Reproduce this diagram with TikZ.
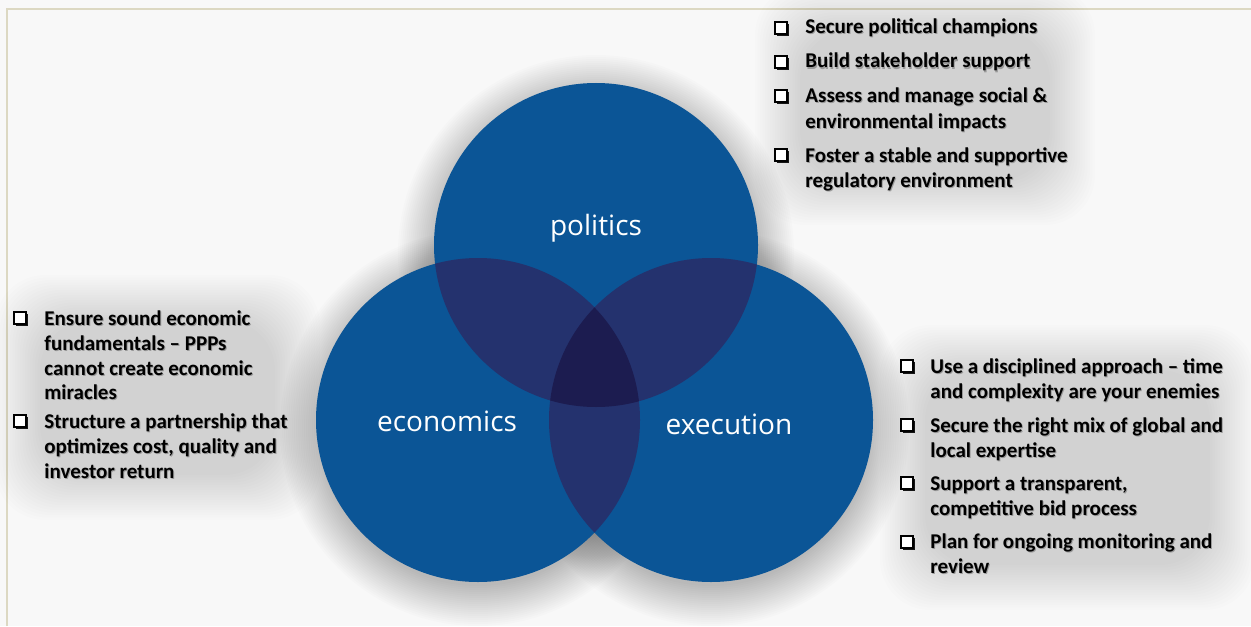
\documentclass[tikz,border=0pt]{standalone}
\usepackage{fontspec}
\setmainfont{Carlito}
\newfontfamily\labelfont{Open Sans}
\usetikzlibrary{shadows}
\definecolor{cblue}{RGB}{11,85,150}
\definecolor{cdouble}{RGB}{36,50,110}
\definecolor{ctriple}{RGB}{28,28,80}
\definecolor{framecol}{RGB}{220,216,194}
\definecolor{bgcol}{RGB}{248,248,248}
\tikzset{
  itemtext/.style={font=\fontsize{10.5}{12}\selectfont\bfseries, anchor=base west, inner sep=0pt, text=black},
  itemshadow/.style={itemtext, text=black!55, opacity=0.6},
  chkbox/.style={draw=black, fill=white, line width=0.9pt, minimum size=6pt, inner sep=0pt,
     drop shadow={shadow xshift=1pt, shadow yshift=-1pt, opacity=0.9, fill=black}},
  circlelabel/.style={font=\labelfont\fontsize{14}{16}\selectfont, text=white, inner sep=0pt},
  glow/.style={fill=black, opacity=0.013},
  tglow/.style={fill=black, opacity=0.006, rounded corners=25pt}
}
\newcommand{\itm}[3]{%
  \node[itemshadow] (#1s) at ([xshift=0.5pt,yshift=-0.5pt]#2) {#3};
  \node[itemtext] (#1) at (#2) {#3};}
\begin{document}
\begin{tikzpicture}[x=0.5pt,y=-0.5pt]
\useasboundingbox (0,0) rectangle (1251,626);
\fill[bgcol] (0,0) rectangle (1251,626);
\draw[framecol, line width=1pt] (7,626) -- (7,9) -- (1251,9);

% soft glows behind the text blocks
\foreach \i in {0,...,18}{
  \fill[tglow] (800-2.5*\i,30-2.5*\i) rectangle (1050+2.5*\i,180+2.5*\i);
  \fill[tglow] (40-2.5*\i,320-2.5*\i) rectangle (275+2.5*\i,475+2.5*\i);
  \fill[tglow] (925-2.5*\i,370-2.5*\i) rectangle (1210+2.5*\i,565+2.5*\i);
}

\coordinate (P) at (596,245);
\coordinate (E) at (478,420);
\coordinate (X) at (711,420);
\def\R{162}

% glow
\foreach \c in {P,E,X}{
  \foreach \i in {0,...,20}{
    \fill[glow] ([yshift=-4pt]\c) circle[radius=\R-4+2*\i];
  }
}

% circles
\fill[cblue] (P) circle[radius=\R];
\fill[cblue] (E) circle[radius=\R];
\fill[cblue] (X) circle[radius=\R];
\begin{scope}
  \clip (P) circle[radius=\R];
  \fill[cdouble] (E) circle[radius=\R];
  \fill[cdouble] (X) circle[radius=\R];
\end{scope}
\begin{scope}
  \clip (E) circle[radius=\R];
  \fill[cdouble] (X) circle[radius=\R];
\end{scope}
\begin{scope}
  \clip (P) circle[radius=\R];
  \clip (E) circle[radius=\R];
  \fill[ctriple] (X) circle[radius=\R];
\end{scope}

\node[circlelabel] (lpol) at (596,228) {politics};
\node[circlelabel] (leco) at (447,421) {economics};
\node[circlelabel] (lexe) at (729,424) {execution};

% top right list
\node[chkbox] (c1) at (781,28) {};
\node[chkbox] (c2) at (781,62) {};
\node[chkbox] (c3) at (781,96) {};
\node[chkbox] (c4) at (781,155) {};
\itm{t1}{805,34}{Secure political champions}
\itm{t2}{805,68}{Build stakeholder support}
\itm{t3}{805,103}{Assess and manage social \&}
\itm{t3b}{805,128}{environmental impacts}
\itm{t4}{805,162}{Foster a stable and supportive}
\itm{t4b}{805,187}{regulatory environment}

% left list
\node[chkbox] (c5) at (20,318) {};
\node[chkbox] (c6) at (20,421) {};
\itm{t5}{44,325}{Ensure sound economic}
\itm{t5b}{44,350}{fundamentals -- PPPs}
\itm{t5c}{44,375}{cannot create economic}
\itm{t5d}{44,399}{miracles}
\itm{t6}{44,428}{Structure a partnership that}
\itm{t6b}{44,453}{optimizes cost, quality and}
\itm{t6c}{44,478}{investor return}

% right list
\node[chkbox] (c7) at (907,366) {};
\node[chkbox] (c8) at (907,425) {};
\node[chkbox] (c9) at (907,483) {};
\node[chkbox] (c10) at (907,542) {};
\itm{t7}{930,373}{Use a disciplined approach -- time}
\itm{t7b}{930,398}{and complexity are your enemies}
\itm{t8}{930,432}{Secure the right mix of global and}
\itm{t8b}{930,457}{local expertise}
\itm{t9}{930,490}{Support a transparent,}
\itm{t9b}{930,515}{competitive bid process}
\itm{t10}{930,548}{Plan for ongoing monitoring and}
\itm{t10b}{930,573}{review}
\end{tikzpicture}
\end{document}
